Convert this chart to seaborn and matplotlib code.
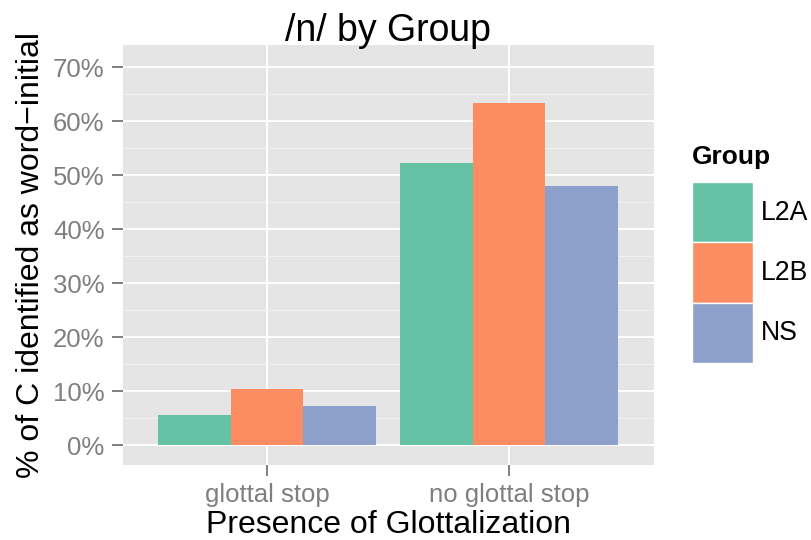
import matplotlib
matplotlib.use("Agg")
import matplotlib.pyplot as plt
from matplotlib.patches import Patch
from matplotlib.ticker import MultipleLocator, FuncFormatter
import pandas as pd
import seaborn as sns

# values (percent)
glottal = ["glottal stop", "no glottal stop"]
groups = ["L2A", "L2B", "NS"]
l2a = [5.6, 52.2]
l2b = [10.3, 63.3]
ns = [7.3, 48.0]

df = pd.DataFrame({
    "glottal": glottal * 3,
    "Group": [g for g in groups for _ in glottal],
    "pct": l2a + l2b + ns,
})

sns.set_style("darkgrid")
plt.rcParams["font.family"] = ["Liberation Sans", "DejaVu Sans"]
plt.rcParams["text.color"] = "black"
plt.rcParams["axes.labelcolor"] = "black"

fig = plt.figure(figsize=(8.12, 5.4), dpi=100)
ax = fig.add_axes([123 / 812, 75 / 540, 531 / 812, 420 / 540])
ax.set_facecolor("#E5E5E5")

pal = sns.color_palette("Set2", 3)
sns.barplot(data=df, x="glottal", y="pct", hue="Group", hue_order=groups,
            palette=pal, saturation=1, width=0.9, gap=0, ax=ax,
            edgecolor="none", linewidth=0, legend=False)

ax.set_xlim(-0.595, 1.6)
ax.set_ylim(-3.7, 74.1)
ax.yaxis.set_major_locator(MultipleLocator(10))
ax.yaxis.set_minor_locator(MultipleLocator(5))
ax.yaxis.set_major_formatter(FuncFormatter(lambda v, p: f"{v:.0f}%"))
ax.grid(which="major", color="white", linewidth=1.4)
ax.grid(which="minor", axis="y", color="#F2F2F2", linewidth=0.7)
ax.set_axisbelow(True)
for s in ax.spines.values():
    s.set_visible(False)

ax.tick_params(axis="both", which="major", length=7.8, width=1.4, color="#7F7F7F",
               labelcolor="#7F7F7F", labelsize=18.5, pad=5.5,
               bottom=True, left=True)
ax.tick_params(axis="y", which="minor", length=0, left=False)

ax.set_xlabel("Presence of Glottalization", fontsize=23, labelpad=2, color="black")
ax.set_ylabel("% of C identified as word\u2212initial", fontsize=23, labelpad=5,
              color="black")
ax.set_title("/n/ by Group", fontsize=27, pad=3, color="black")

# legend: title as separate text so it sits closer to the keys like ggplot
fig.text(692 / 812, 1 - 157 / 540, "Group", fontsize=19, fontweight="bold",
         ha="left", va="center", color="black")
handles = [Patch(facecolor=c, edgecolor="white", linewidth=1) for c in pal]
leg = fig.legend(handles, groups, loc="upper left",
                 bbox_to_anchor=(692 / 812, 1 - 182 / 540), frameon=False,
                 fontsize=19.2, handlelength=2.3, handleheight=3.1,
                 labelspacing=0, handletextpad=0.28, borderpad=0,
                 borderaxespad=0, labelcolor="black")

fig.savefig("out.png", dpi=100)
